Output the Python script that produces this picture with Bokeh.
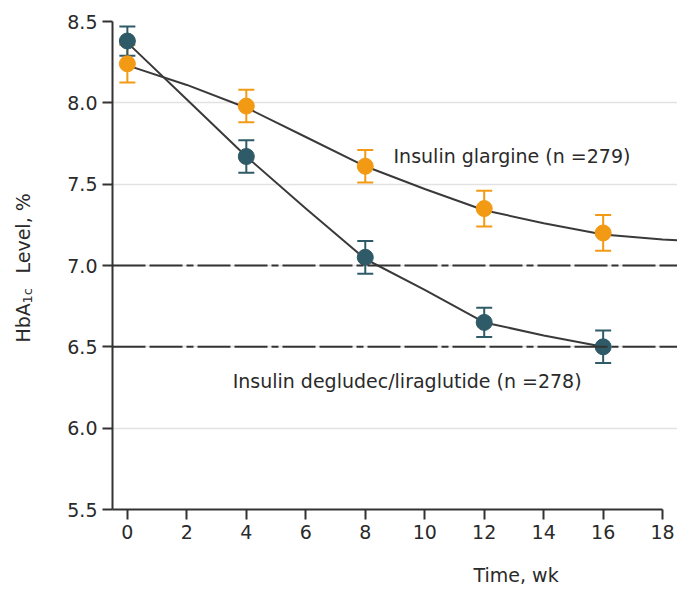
from math import pi
from bokeh.plotting import figure
from bokeh.layouts import row, column
from bokeh.models import (ColumnDataSource, Whisker, TeeHead, Span, Label, Range1d, FixedTicker,
                          NumeralTickFormatter)
from bokeh.embed import file_html
from bokeh.resources import INLINE

# ---- data ----
weeks = [0, 4, 8, 12, 16]
glargine_mean = [8.24, 7.98, 7.61, 7.35, 7.20]
glargine_err = [0.115, 0.10, 0.10, 0.11, 0.11]
degl_mean = [8.38, 7.67, 7.05, 6.65, 6.50]
degl_err = [0.09, 0.10, 0.10, 0.09, 0.10]

glargine_curve_weeks = [0, 2, 4, 6, 8, 10, 12, 14, 16, 18, 18.5]
glargine_curve = [8.23, 8.11, 7.97, 7.79, 7.61, 7.47, 7.34, 7.26, 7.19, 7.16, 7.155]
degl_curve_weeks = [0, 2, 4, 6, 8, 10, 12, 14, 16]
degl_curve = [8.37, 8.02, 7.67, 7.35, 7.04, 6.85, 6.65, 6.57, 6.50]

x_ticks = [0, 2, 4, 6, 8, 10, 12, 14, 16, 18]
y_ticks = [5.5, 6.0, 6.5, 7.0, 7.5, 8.0, 8.5]
target_levels = [7.0, 6.5]

glargine_label = "Insulin glargine (n =279)"
degl_label = "Insulin degludec/liraglutide (n =278)"
x_title = "Time, wk"
y_title_parts = ["HbA", "1c", "Level, %"]

ORANGE = "#f39a14"
TEAL = "#2f5a67"
CURVE = "#3a3a3a"
TXT = "#2a2a2a"
FONT = "DejaVu Sans"

LEFT_W = 40
MAIN_W = 677 - LEFT_W
MAIN_H = 550
BOTTOM_H = 42

p = figure(width=MAIN_W, height=MAIN_H, x_range=Range1d(-0.5, 18.5), y_range=Range1d(5.5, 8.5),
           toolbar_location=None, output_backend="svg",
           min_border_left=112 - LEFT_W, min_border_right=0, min_border_top=21,
           min_border_bottom=MAIN_H - 509)
p.outline_line_color = None
p.background_fill_color = "white"

p.xgrid.visible = False
p.ygrid.ticker = FixedTicker(ticks=y_ticks)
p.ygrid.grid_line_color = "#e2e2e2"
p.ygrid.grid_line_width = 1.5

for ax in (p.xaxis[0], p.yaxis[0]):
    ax.axis_line_width = 2
    ax.axis_line_color = "#333333"
    ax.major_tick_line_width = 2
    ax.major_tick_line_color = "#333333"
    ax.major_tick_out = 10
    ax.major_tick_in = 0
    ax.minor_tick_line_color = None
    ax.major_label_text_font = FONT
    ax.major_label_text_font_size = "19px"
    ax.major_label_text_color = TXT
    ax.major_label_standoff = 5

p.xaxis.ticker = FixedTicker(ticks=x_ticks)
p.xaxis.bounds = (-0.5, 18)
p.yaxis.ticker = FixedTicker(ticks=y_ticks)
p.yaxis.formatter = NumeralTickFormatter(format="0.0")

for lvl in target_levels:
    p.add_layout(Span(location=lvl, dimension="width", line_color="#333333",
                      line_width=2, line_dash="33 4 33 4 7 4"))

p.line(glargine_curve_weeks, glargine_curve, line_color=CURVE, line_width=2)
p.line(degl_curve_weeks, degl_curve, line_color=CURVE, line_width=2)

for mean, err, col in ((glargine_mean, glargine_err, ORANGE), (degl_mean, degl_err, TEAL)):
    src = ColumnDataSource(dict(x=weeks, y=mean,
                                upper=[m + e for m, e in zip(mean, err)],
                                lower=[m - e for m, e in zip(mean, err)]))
    p.add_layout(Whisker(base="x", upper="upper", lower="lower", source=src,
                         line_color=col, line_width=2,
                         upper_head=TeeHead(size=16, line_color=col, line_width=2),
                         lower_head=TeeHead(size=16, line_color=col, line_width=2)))
    p.scatter("x", "y", source=src, size=16, color=col)

p.add_layout(Label(x=8.95, y=7.676, text=glargine_label, text_font=FONT, text_font_size="19px",
                   text_color=TXT, text_align="left", text_baseline="middle"))
p.add_layout(Label(x=3.54, y=6.293, text=degl_label, text_font=FONT, text_font_size="19px",
                   text_color=TXT, text_align="left", text_baseline="middle"))


def strip(w, h):
    f = figure(width=w, height=h, x_range=Range1d(0, w), y_range=Range1d(0, h),
               toolbar_location=None, output_backend="svg",
               min_border_left=0, min_border_right=0, min_border_top=0, min_border_bottom=0,
               x_axis_location=None, y_axis_location=None)
    f.outline_line_color = None
    f.grid.visible = False
    return f


# bottom strip with the x-axis title (right of centre in the original)
bottom = strip(MAIN_W, BOTTOM_H)
bottom.add_layout(Label(x=455, y=BOTTOM_H - (574 - MAIN_H), text=x_title,
                        text_font=FONT, text_font_size="19px", text_color=TXT,
                        text_align="center", text_baseline="middle"))

# left strip with the y-axis title (with subscript)
LEFT_H = MAIN_H + BOTTOM_H
left = strip(LEFT_W, LEFT_H)
sizes = ["19px", "13px", "19px"]
x_shift = [0, 5, 0]
y_shift = [-77, -38, -8]
for txt, fs, xo, yo in zip(y_title_parts, sizes, x_shift, y_shift):
    left.add_layout(Label(x=22, y=LEFT_H - 265, x_offset=xo, y_offset=yo, text=txt, angle=pi / 2,
                          text_font=FONT, text_font_size=fs, text_color=TXT,
                          text_align="left", text_baseline="middle"))

layout = row(left, column(p, bottom))
open("out.html", "w").write(file_html(layout, INLINE))
